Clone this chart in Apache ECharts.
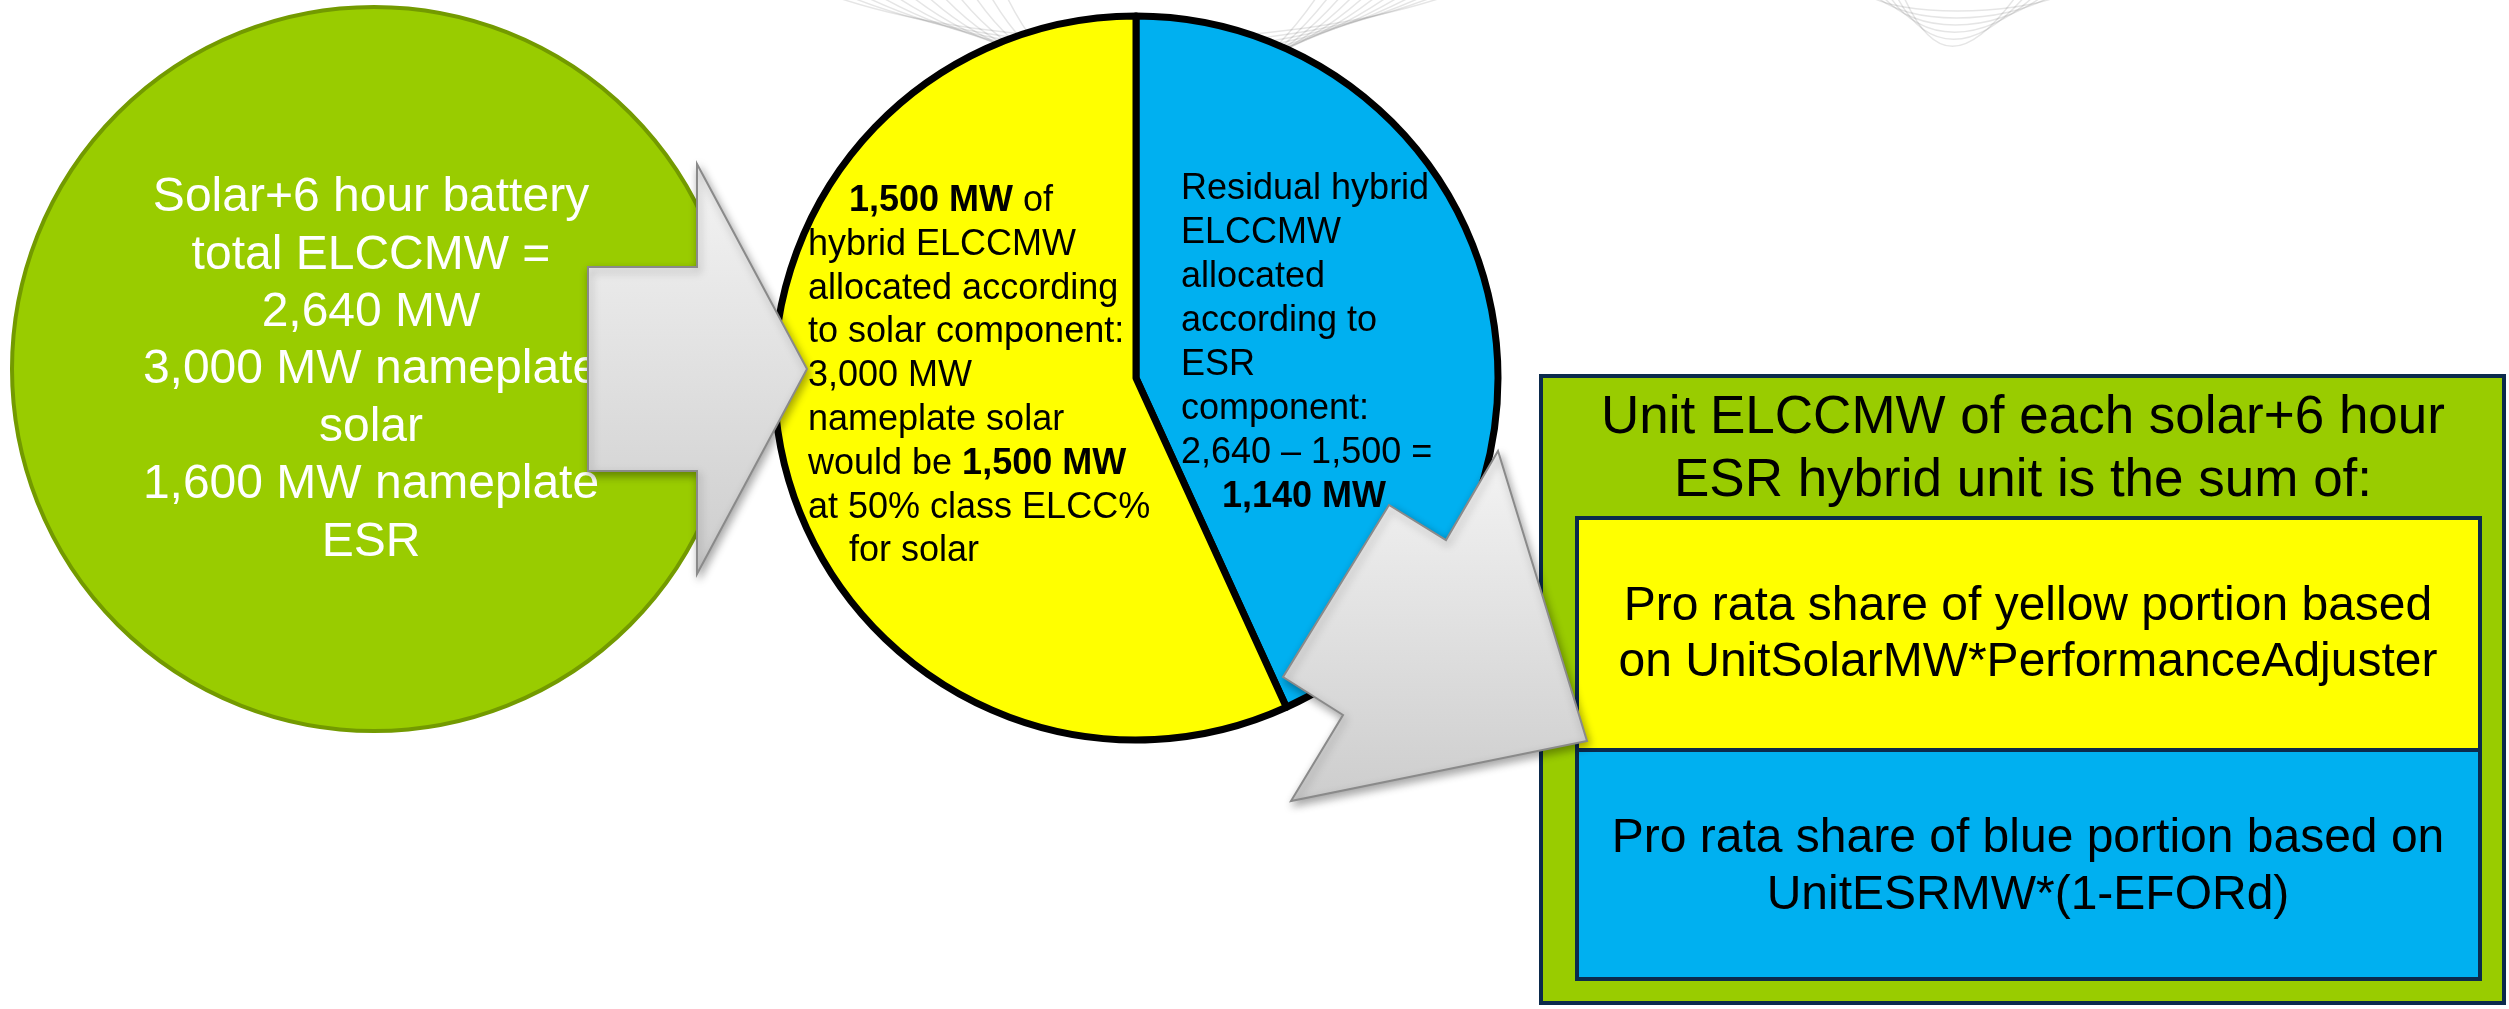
<!DOCTYPE html>
<html>
<head>
<meta charset="utf-8">
<script src="https://cdn.jsdelivr.net/npm/echarts@6/dist/echarts.min.js"></script>
<style>
html,body{margin:0;padding:0;background:#fff;}
#chart{width:2509px;height:1009px;}
</style>
</head>
<body>
<div id="chart"></div>
<script>
// ---- data ----
const pieNames = ['Residual hybrid ELCCMW (ESR component)', 'Solar component ELCCMW'];
const pieValues = [1140, 1500];
const pieColors = ['#00B0F0', '#FFFF00'];

const totalLines = ['Solar+6 hour battery', 'total ELCCMW =', '2,640 MW', '3,000 MW nameplate', 'solar', '1,600 MW nameplate', 'ESR'];
const solarLines = ['{b|1,500 MW} of', 'hybrid ELCCMW', 'allocated according', 'to solar component:', '3,000 MW', 'nameplate solar', 'would be {b|1,500 MW}', 'at 50% class ELCC%', 'for solar'];
const solarIndent = [true, false, false, false, false, false, false, false, true];
const esrLines = ['Residual hybrid', 'ELCCMW', 'allocated', 'according to', 'ESR', 'component:', '2,640 \u2013 1,500 =', '{b|1,140 MW}'];
const esrIndent = [false, false, false, false, false, false, false, true];
const boxHeaderLines = ['Unit ELCCMW of each solar+6 hour', 'ESR hybrid unit is the sum of:'];
const boxYellowLines = ['Pro rata share of yellow portion based', 'on UnitSolarMW*PerformanceAdjuster'];
const boxBlueLines = ['Pro rata share of blue portion based on', 'UnitESRMW*(1-EFORd)'];

// ---- layout ----
const FONT = '"Liberation Sans", Arial, sans-serif';
const NAVY = '#0B2A4C';
const chart = echarts.init(document.getElementById('chart'));
const g = [];

function txt(text, x, y, size, color, align, z, bold) {
  return {
    type: 'text', z: z, silent: true,
    style: {
      text: text, x: x, y: y,
      fontSize: size, fontFamily: FONT, fontWeight: bold ? 'bold' : 'normal',
      fill: color, align: align, textAlign: align,
      verticalAlign: 'middle', textVerticalAlign: 'middle',
      rich: { b: { fontSize: size, fontFamily: FONT, fontWeight: 'bold', fill: color, color: color } }
    }
  };
}

// decorative background swirls
for (let k = 0; k < 12; k++) {
  const x1 = 830 + k * 16, x2 = 1450 - k * 12, d = 40 + k * 6;
  g.push({ type: 'bezierCurve', z: 0, silent: true,
    shape: { x1: x1, y1: -5, x2: x2, y2: -5, cpx1: x1 + (1136 - x1) * 0.55, cpy1: d * 1.35, cpx2: x2 - (x2 - 1136) * 0.55, cpy2: d * 1.35 },
    style: { stroke: 'rgba(0,0,0,0.10)', lineWidth: 1.5, fill: null } });
}
for (let k = 0; k < 6; k++) {
  const x1 = 1868 + k * 7, x2 = 2062 - k * 9, d = 12 + k * 7;
  g.push({ type: 'bezierCurve', z: 0, silent: true,
    shape: { x1: x1, y1: -5, x2: x2, y2: -5, cpx1: x1 + 30, cpy1: d * 1.35, cpx2: x2 - 50, cpy2: d * 1.35 },
    style: { stroke: 'rgba(0,0,0,0.10)', lineWidth: 1.5, fill: null } });
}

// green circle
g.push({ type: 'circle', z: 1, silent: true, shape: { cx: 374, cy: 369, r: 362 },
  style: { fill: '#99CC00', stroke: '#739A00', lineWidth: 4 } });
totalLines.forEach((t, i) => g.push(txt(t, 371, 198 + i * 57.4, 48, '#FFFFFF', 'center', 3)));

// pie texts
solarLines.forEach((t, i) => g.push(txt(t, solarIndent[i] ? 849 : 808, 201 + i * 43.8, 36, '#000', 'left', 5)));
esrLines.forEach((t, i) => g.push(txt(t, esrIndent[i] ? 1222 : 1181, 189 + i * 44, 36, '#000', 'left', 5)));

// right box
g.push({ type: 'rect', z: 1, silent: true, shape: { x: 1541, y: 376, width: 963, height: 627 },
  style: { fill: '#99CC00', stroke: NAVY, lineWidth: 4 } });
g.push({ type: 'rect', z: 1, silent: true, shape: { x: 1577, y: 518, width: 903, height: 232 },
  style: { fill: '#FFFF00', stroke: NAVY, lineWidth: 4 } });
g.push({ type: 'rect', z: 1, silent: true, shape: { x: 1577, y: 750, width: 903, height: 229 },
  style: { fill: '#00B0F0', stroke: NAVY, lineWidth: 4 } });
boxHeaderLines.forEach((t, i) => g.push(txt(t, 2023, 418 + i * 63, 53, '#000', 'center', 3)));
boxYellowLines.forEach((t, i) => g.push(txt(t, 2028, 607 + i * 56, 48, '#000', 'center', 3)));
boxBlueLines.forEach((t, i) => g.push(txt(t, 2028, 839 + i * 57, 48, '#000', 'center', 3)));

// arrows
const arrowStyle = {
  fill: new echarts.graphic.LinearGradient(0, 0, 0, 1, [{ offset: 0, color: '#F4F4F4' }, { offset: 1, color: '#CDCDCD' }]),
  stroke: '#8A8A8A', lineWidth: 2,
  shadowBlur: 8, shadowOffsetX: 2, shadowOffsetY: 4, shadowColor: 'rgba(0,0,0,0.35)'
};
g.push({ type: 'polygon', z: 20, silent: true,
  shape: { points: [[588, 267], [697, 267], [697, 164], [807, 369], [697, 574], [697, 471], [588, 471]] },
  style: arrowStyle });
g.push({ type: 'polygon', z: 20, silent: true,
  shape: { points: [[1389, 505], [1446, 540], [1498, 451], [1587, 741], [1291, 801], [1343, 715], [1283, 677]] },
  style: arrowStyle });

chart.setOption({
  animation: false,
  backgroundColor: '#FFFFFF',
  series: [{
    type: 'pie', z: 2,
    center: [1136, 378], radius: 362,
    startAngle: 90, clockwise: true,
    label: { show: false }, labelLine: { show: false },
    emphasis: { disabled: true },
    itemStyle: { borderColor: '#000000', borderWidth: 7 },
    data: pieValues.map((v, i) => ({ name: pieNames[i], value: v, itemStyle: { color: pieColors[i] } }))
  }],
  graphic: g
});
</script>
</body>
</html>
